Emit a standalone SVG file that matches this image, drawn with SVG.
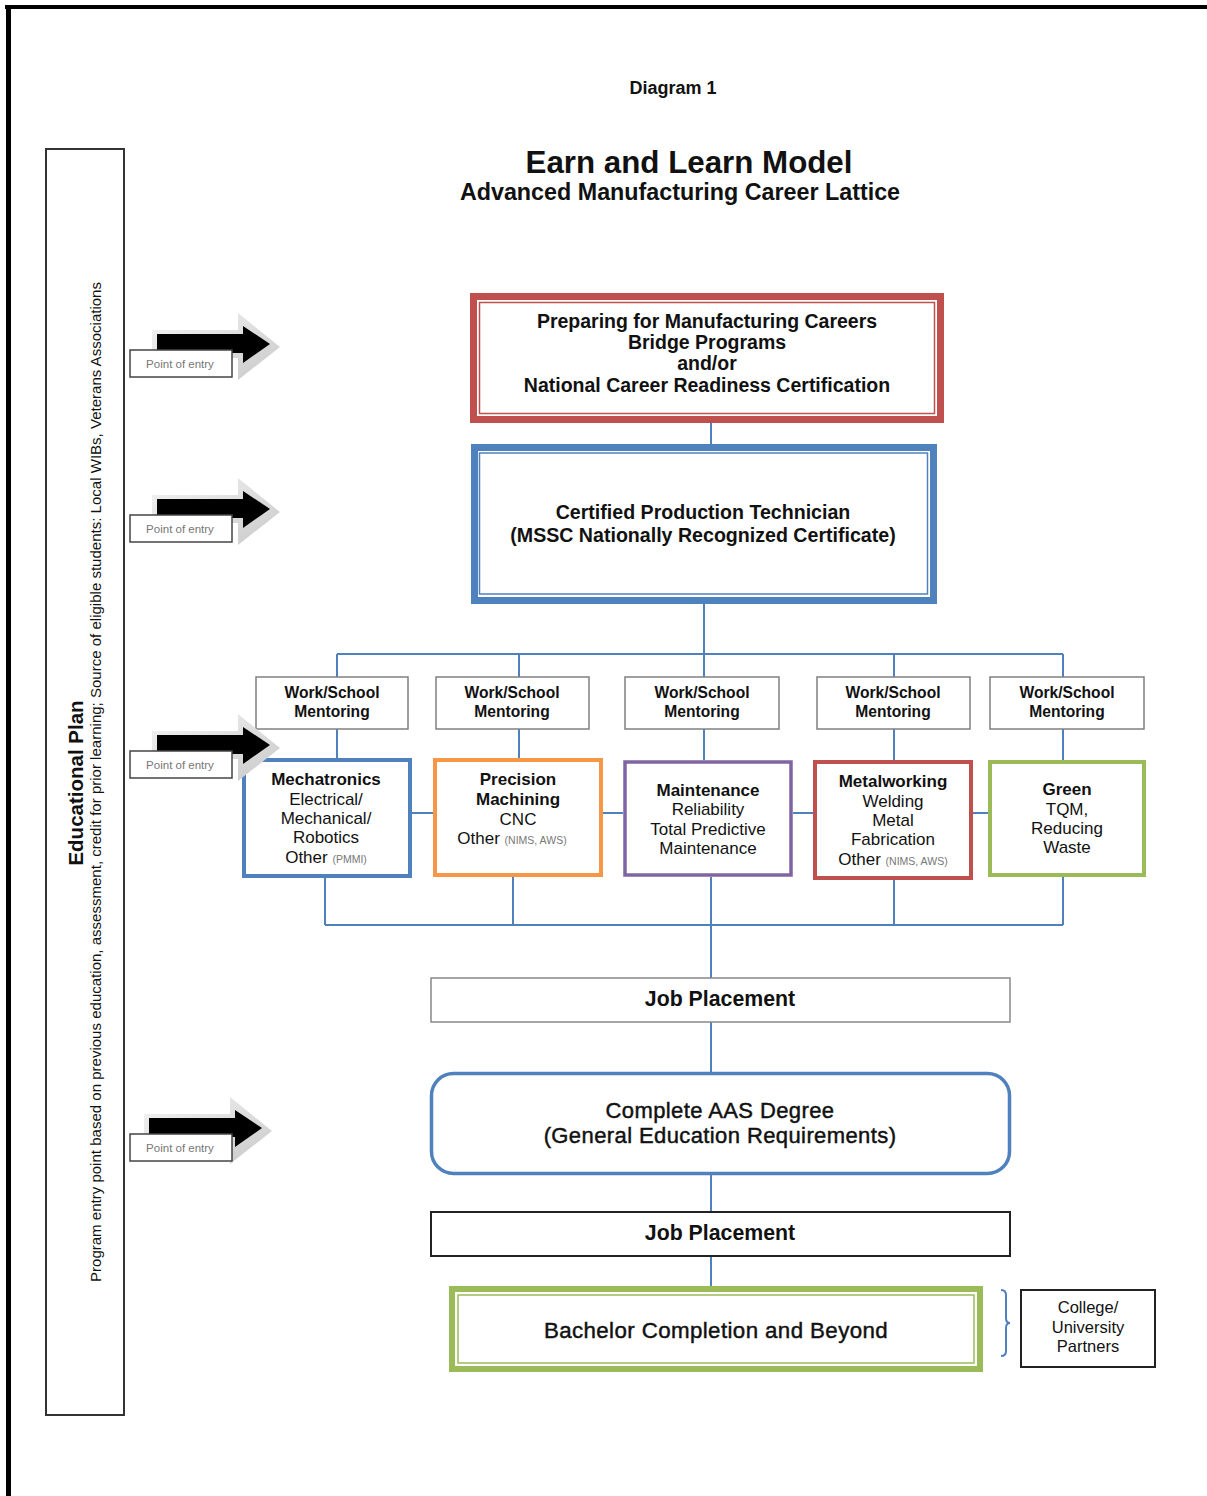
<svg xmlns="http://www.w3.org/2000/svg" width="1207" height="1496" viewBox="0 0 1207 1496">
<style>
text{font-family:"Liberation Sans",Arial,sans-serif;fill:#111}
.b{font-weight:bold}
.c{text-anchor:middle}
.med{stroke:#111;stroke-width:0.45}
.small{font-size:10.5px;fill:#777}
.conn{stroke:#4F81BD;stroke-width:2;fill:none}
.ment{fill:#fff;stroke:#808080;stroke-width:1.5}
.poe{fill:#fff;stroke:#444;stroke-width:1.5}
.poet{font-size:11.5px;fill:#777}
</style>
<defs>
<linearGradient id="sh" x1="0" y1="0" x2="1" y2="1">
<stop offset="0" stop-color="#f4f4f4"/>
<stop offset="1" stop-color="#c9c9c9"/>
</linearGradient>
<g id="arrow">
<polygon points="22,-20 108,-20 108,-37 150,-3 108,30 108,8 22,8" fill="url(#sh)"/>
<polygon points="27,-16 113,-16 113,-24 140,-6 113,13 113,3 27,3" fill="#000"/>
</g>
</defs>
<rect width="1207" height="1496" fill="#fff"/>
<g id="page-border">
<rect x="5" y="5" width="1202" height="4" fill="#000"/>
<rect x="6" y="5" width="5" height="1491" fill="#000"/>
</g>
<g id="header">
<text class="b c" x="673" y="94" font-size="18">Diagram 1</text>
<text class="b c" x="689" y="173" font-size="31.3">Earn and Learn Model</text>
<text class="b c" x="680" y="200" font-size="23.3">Advanced Manufacturing Career Lattice</text>
</g>
<g id="educational-plan">
<rect x="46" y="149" width="78" height="1266" fill="#fff" stroke="#333" stroke-width="2"/>
<text class="b c" font-size="20.5" transform="translate(83,783) rotate(-90)">Educational Plan</text>
<text class="c" font-size="14" textLength="1000" lengthAdjust="spacingAndGlyphs" transform="translate(101,782) rotate(-90)">Program entry point based on previous education, assessment, credit for prior learning; Source of eligible students: Local WIBs, Veterans Associations</text>
</g>
<g id="connectors">
<line class="conn" x1="711" y1="422" x2="711" y2="447"/>
<line class="conn" x1="704" y1="604" x2="704" y2="654"/>
<line class="conn" x1="337" y1="654" x2="1063" y2="654"/>
<path class="conn" d="M337 654V677M519 654V677M704 654V677M894 654V677M1063 654V677"/>
<path class="conn" d="M337 729V758M519 729V758M704 729V760M894 729V760M1063 729V760"/>
<path class="conn" d="M412 813H433M603 813H623M793 813H813M973 813H988"/>
<path class="conn" d="M325 878V925M513 877V925M894 880V925M1063 877V925M325 925H1063"/>
<line class="conn" x1="711" y1="877" x2="711" y2="978"/>
<line class="conn" x1="711" y1="1022" x2="711" y2="1072"/>
<line class="conn" x1="711" y1="1174" x2="711" y2="1212"/>
<line class="conn" x1="711" y1="1256" x2="711" y2="1287"/>
<path class="conn" stroke-width="1.5" d="M1001 1290Q1006 1290 1006 1295V1318Q1006 1323 1010 1323Q1006 1323 1006 1328V1351Q1006 1356 1001 1356"/>
</g>
<g id="node-preparing">
<rect x="473.5" y="296.5" width="467" height="123" fill="#fff" stroke="#C0504D" stroke-width="7"/>
<rect x="479.5" y="302.5" width="455" height="111" fill="none" stroke="#C0504D" stroke-width="1.5"/>
<text class="b c" x="707" y="328" font-size="19.5">Preparing for Manufacturing Careers</text>
<text class="b c" x="707" y="349" font-size="19.5">Bridge Programs</text>
<text class="b c" x="707" y="370" font-size="19.5">and/or</text>
<text class="b c" x="707" y="392" font-size="19.5">National Career Readiness Certification</text>
</g>
<g id="node-cpt">
<rect x="474.5" y="447.5" width="459" height="153" fill="#fff" stroke="#4F81BD" stroke-width="7"/>
<rect x="479.5" y="453" width="448" height="141" fill="none" stroke="#4F81BD" stroke-width="1.5"/>
<text class="b c" x="703" y="519" font-size="19.6">Certified Production Technician</text>
<text class="b c" x="703" y="542" font-size="19.6">(MSSC Nationally Recognized Certificate)</text>
</g>
<g id="mentoring-1"><rect class="ment" x="256" y="677" width="152" height="52"/><text class="b c" x="332" y="698" font-size="15.6">Work/School</text><text class="b c" x="332" y="717" font-size="15.6">Mentoring</text></g>
<g id="mentoring-2"><rect class="ment" x="436" y="677" width="153" height="52"/><text class="b c" x="512" y="698" font-size="15.6">Work/School</text><text class="b c" x="512" y="717" font-size="15.6">Mentoring</text></g>
<g id="mentoring-3"><rect class="ment" x="625" y="677" width="154" height="52"/><text class="b c" x="702" y="698" font-size="15.6">Work/School</text><text class="b c" x="702" y="717" font-size="15.6">Mentoring</text></g>
<g id="mentoring-4"><rect class="ment" x="817" y="677" width="153" height="52"/><text class="b c" x="893" y="698" font-size="15.6">Work/School</text><text class="b c" x="893" y="717" font-size="15.6">Mentoring</text></g>
<g id="mentoring-5"><rect class="ment" x="990" y="677" width="154" height="52"/><text class="b c" x="1067" y="698" font-size="15.6">Work/School</text><text class="b c" x="1067" y="717" font-size="15.6">Mentoring</text></g>
<g id="node-mechatronics" font-size="17">
<rect x="244" y="760" width="166" height="116" fill="#fff" stroke="#4F81BD" stroke-width="4"/>
<text class="b c" x="326" y="785">Mechatronics</text>
<text class="c" x="326" y="805">Electrical/</text>
<text class="c" x="326" y="824">Mechanical/</text>
<text class="c" x="326" y="843">Robotics</text>
<text class="c" x="326" y="863">Other <tspan class="small">(PMMI)</tspan></text>
</g>
<g id="node-precision" font-size="17">
<rect x="435" y="760" width="166" height="115" fill="#fff" stroke="#F79646" stroke-width="4"/>
<text class="b c" x="518" y="785">Precision</text>
<text class="b c" x="518" y="805">Machining</text>
<text class="c" x="518" y="825">CNC</text>
<text class="c" x="512" y="844">Other <tspan class="small">(NIMS, AWS)</tspan></text>
</g>
<g id="node-maintenance" font-size="17">
<rect x="625" y="762" width="166" height="113" fill="#fff" stroke="#8064A2" stroke-width="3.5"/>
<text class="b c" x="708" y="796">Maintenance</text>
<text class="c" x="708" y="815">Reliability</text>
<text class="c" x="708" y="835">Total Predictive</text>
<text class="c" x="708" y="854">Maintenance</text>
</g>
<g id="node-metalworking" font-size="17">
<rect x="815" y="762" width="156" height="116" fill="#fff" stroke="#C0504D" stroke-width="4"/>
<text class="b c" x="893" y="787">Metalworking</text>
<text class="c" x="893" y="807">Welding</text>
<text class="c" x="893" y="826">Metal</text>
<text class="c" x="893" y="845">Fabrication</text>
<text class="c" x="893" y="865">Other <tspan class="small">(NIMS, AWS)</tspan></text>
</g>
<g id="node-green" font-size="17">
<rect x="990" y="762" width="154" height="113" fill="#fff" stroke="#9BBB59" stroke-width="4"/>
<text class="b c" x="1067" y="795">Green</text>
<text class="c" x="1067" y="815">TQM,</text>
<text class="c" x="1067" y="834">Reducing</text>
<text class="c" x="1067" y="853">Waste</text>
</g>
<g id="node-job-placement-1">
<rect x="431" y="978" width="579" height="44" fill="#fff" stroke="#888" stroke-width="1.5"/>
<text class="b c" x="720" y="1006" font-size="21.3">Job Placement</text>
</g>
<g id="node-aas">
<rect x="431.5" y="1073.5" width="578" height="100" rx="22" fill="#fff" stroke="#4F81BD" stroke-width="3.5"/>
<text class="c med" x="720" y="1118" font-size="22" letter-spacing="0.4">Complete AAS Degree</text>
<text class="c med" x="720" y="1143" font-size="22" letter-spacing="0.4">(General Education Requirements)</text>
</g>
<g id="node-job-placement-2">
<rect x="431" y="1212" width="579" height="44" fill="#fff" stroke="#222" stroke-width="2"/>
<text class="b c" x="720" y="1240" font-size="21.3">Job Placement</text>
</g>
<g id="node-bachelor">
<rect x="452" y="1289" width="528" height="80" fill="#fff" stroke="#9BBB59" stroke-width="6"/>
<rect x="458" y="1295" width="516" height="68" fill="none" stroke="#9BBB59" stroke-width="1.5"/>
<text class="c med" x="716" y="1338" font-size="22.3" letter-spacing="0.4">Bachelor Completion and Beyond</text>
</g>
<g id="node-college">
<rect x="1021" y="1290" width="134" height="77" fill="#fff" stroke="#222" stroke-width="2"/>
<text class="c" x="1088" y="1313" font-size="16.5">College/</text>
<text class="c" x="1088" y="1333" font-size="16.5">University</text>
<text class="c" x="1088" y="1352" font-size="16.5">Partners</text>
</g>
<g id="entry-1">
<use href="#arrow" transform="translate(130,350)"/>
<rect class="poe" x="130" y="350" width="102" height="27"/>
<text class="poet c" x="180" y="368">Point of entry</text>
</g>
<g id="entry-2">
<use href="#arrow" transform="translate(130,515)"/>
<rect class="poe" x="130" y="515" width="102" height="27"/>
<text class="poet c" x="180" y="533">Point of entry</text>
</g>
<g id="entry-3">
<use href="#arrow" transform="translate(130,751)"/>
<rect class="poe" x="130" y="751" width="102" height="27"/>
<text class="poet c" x="180" y="769">Point of entry</text>
</g>
<g id="entry-4">
<use href="#arrow" transform="translate(122,1134)"/>
<rect class="poe" x="130" y="1134" width="102" height="27"/>
<text class="poet c" x="180" y="1152">Point of entry</text>
</g>
</svg>
